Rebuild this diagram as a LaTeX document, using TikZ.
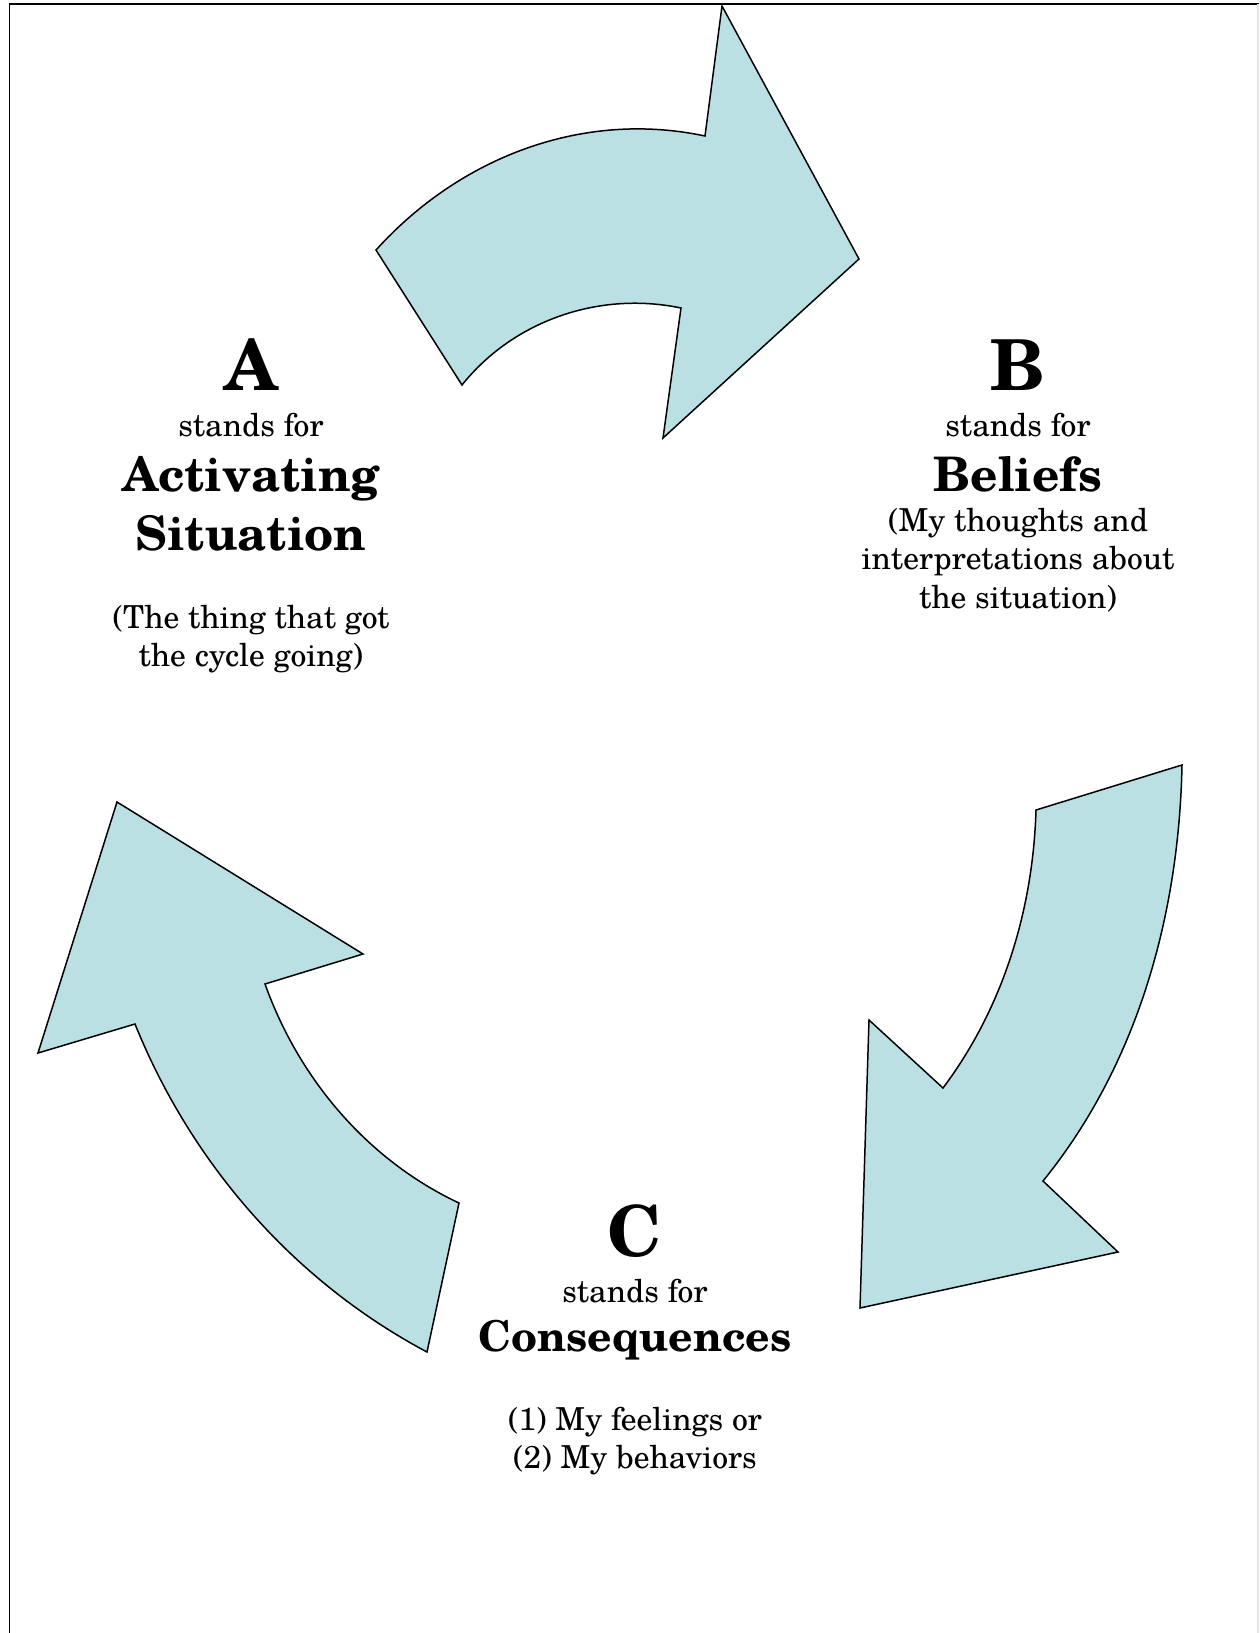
\documentclass[tikz,border=0pt]{standalone}
\usepackage{fontspec}
\setmainfont{TeX Gyre Schola}
\definecolor{arrowfill}{RGB}{187,224,227}
\begin{document}
\begin{tikzpicture}[x=0.02cm,y=-0.02cm,
  cyclearrow/.style={fill=arrowfill,draw=black,line width=0.85pt,line join=miter},
  bigletter/.style={inner sep=0pt,anchor=base,font=\bfseries\fontsize{40}{48}\selectfont},
  keyword/.style={inner sep=0pt,anchor=base,font=\bfseries\fontsize{27.1}{32.5}\selectfont},
  smallkeyword/.style={inner sep=0pt,anchor=base,font=\bfseries\fontsize{24.2}{29}\selectfont},
  bodytext/.style={inner sep=0pt,anchor=base,font=\fontsize{18}{21.6}\selectfont}]
\useasboundingbox (0,0) rectangle (1259,1633);
\fill[white] (0,0) rectangle (1259,1633);
% page frame
\draw[line width=1.1pt] (9.5,1633) -- (9.5,4.3) -- (1259,4.3);
\draw[gray!20,line width=0.6pt] (1258,4.3) -- (1258,1633);
% arrow A -> B
\draw[cyclearrow] (376,250) .. controls (460,157) and (583,110) .. (705,136)
  -- (722,6) -- (859,259) -- (663,438) -- (681,308)
  .. controls (600,291) and (514,320) .. (462,385) -- cycle;
% arrow B -> C
\draw[cyclearrow] (1182,765) -- (1036,810)
  .. controls (1033,910) and (1003,1008) .. (943,1088)
  -- (869,1020) -- (860,1308) -- (1118,1252) -- (1043,1181)
  .. controls (1137.5,1064.5) and (1179,915) .. (1182,765) -- cycle;
% arrow C -> A
\draw[cyclearrow] (117,802) -- (363,954) -- (265,984)
  .. controls (299,1079) and (367.5,1160) .. (459,1203)
  -- (427,1352) .. controls (293.7,1281) and (191.6,1164) .. (135,1024)
  -- (38,1053) -- cycle;
% A block
\node[bigletter] (Aletter) at (251,390.5) {A};
\node[bodytext] (Astands) at (251,436) {stands for};
\node[keyword] (Aword1) at (251,491.5) {Activating};
\node[keyword] (Aword2) at (251,550) {Situation};
\node[bodytext] (Adesc1) at (251,628) {(The thing that got};
\node[bodytext] (Adesc2) at (251,666) {the cycle going)};
% B block
\node[bigletter] (Bletter) at (1018,390.5) {B};
\node[bodytext] (Bstands) at (1018,436) {stands for};
\node[keyword] (Bword) at (1018,491.5) {Beliefs};
\node[bodytext] (Bdesc1) at (1018,531) {(My thoughts and};
\node[bodytext] (Bdesc2) at (1018,569.6) {interpretations about};
\node[bodytext] (Bdesc3) at (1018,608) {the situation)};
% C block
\node[bigletter] (Cletter) at (635,1256) {C};
\node[bodytext] (Cstands) at (635,1302.7) {stands for};
\node[smallkeyword] (Cword) at (635,1351) {Consequences};
\node[bodytext] (Cdesc1) at (635,1430) {(1) My feelings or};
\node[bodytext] (Cdesc2) at (635,1468) {(2) My behaviors};
\end{tikzpicture}
\end{document}
